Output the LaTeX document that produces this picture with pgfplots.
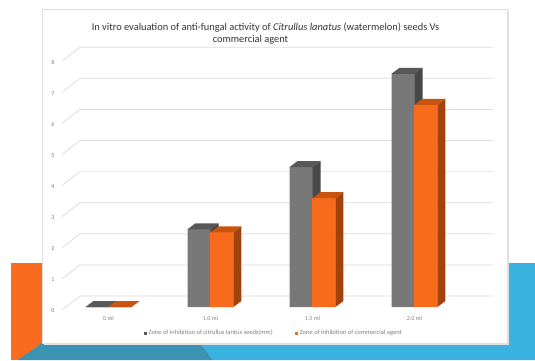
\documentclass[border=0pt]{standalone}
\usepackage{pgfplots}
\pgfplotsset{compat=1.18}
\usepackage{fontspec}
\setmainfont{Carlito}
\definecolor{grayF}{HTML}{787878}
\definecolor{grayT}{HTML}{585858}
\definecolor{grayS}{HTML}{484848}
\definecolor{orgF}{HTML}{F96B1C}
\definecolor{orgT}{HTML}{C8540F}
\definecolor{orgS}{HTML}{A2430E}
\definecolor{bgOrange}{HTML}{F96B1E}
\definecolor{bgTeal}{HTML}{3A93B3}
\definecolor{bgBlue}{HTML}{3AB2DF}
\definecolor{gridc}{HTML}{DCDCDC}
\definecolor{txt}{HTML}{333333}
\definecolor{ticktxt}{HTML}{808080}
% 3D bar: origin at front-top centre of the bar; #1 front, #2 top, #3 side colour
\newcommand\barthreed[3]{%
  \pgfmathsetmacro\hh{\barh*31.1}%
  \pgfsetfillcolor{#1}%
  \pgfpathrectanglecorners{\pgfqpoint{-11.5pt}{0pt}}{\pgfpoint{11.5pt}{-\hh pt}}%
  \pgfusepath{fill}%
  \pgfsetfillcolor{#2}%
  \pgfpathmoveto{\pgfqpoint{-11.5pt}{0pt}}%
  \pgfpathlineto{\pgfqpoint{-3.5pt}{6pt}}%
  \pgfpathlineto{\pgfqpoint{19.5pt}{6pt}}%
  \pgfpathlineto{\pgfqpoint{11.5pt}{0pt}}%
  \pgfpathclose
  \pgfusepath{fill}%
  \pgfsetfillcolor{#3}%
  \pgfpathmoveto{\pgfqpoint{11.5pt}{0pt}}%
  \pgfpathlineto{\pgfqpoint{19.5pt}{6pt}}%
  \pgfpathlineto{\pgfpoint{19.5pt}{6pt-\hh pt}}%
  \pgfpathlineto{\pgfpoint{11.5pt}{-\hh pt}}%
  \pgfpathclose
  \pgfusepath{fill}%
}
\pgfdeclareplotmark{gray3d}{\barthreed{grayF}{grayT}{grayS}}
\pgfdeclareplotmark{orange3d}{\barthreed{orgF}{orgT}{orgS}}
\begin{document}
\begin{tikzpicture}
\path[use as bounding box] (0pt,0pt) rectangle (535pt,360pt);
\fill[white] (0pt,0pt) rectangle (535pt,360pt);
% slide decoration
\fill[bgOrange] (11pt,0pt) rectangle (42pt,97pt);
\fill[bgBlue] (507pt,0pt) rectangle (535pt,97pt);
\fill[bgBlue] (200pt,17pt) -- (535pt,17pt) -- (535pt,0pt) -- (213pt,0pt) -- cycle;
\fill[bgTeal] (42pt,17pt) -- (200pt,17pt) -- (213pt,0pt) -- (18pt,0pt) -- cycle;
% chart box
\fill[black!12] (43.5pt,15.5pt) rectangle (508.5pt,349.5pt);
\filldraw[fill=white, draw=black!13, line width=0.6pt] (42pt,17pt) rectangle (507pt,351pt);
% title
\node[text=txt, font=\fontsize{10.4}{12}\selectfont, inner sep=0pt] at (265.5pt,332pt)
  {In vitro evaluation of anti-fungal activity of \textit{Citrullus lanatus} (watermelon) seeds Vs};
\node[text=txt, font=\fontsize{10.4}{12}\selectfont, inner sep=0pt] at (250.5pt,320pt)
  {commercial agent};
\begin{axis}[
  at={(57.5pt,53pt)}, anchor=south west,
  scale only axis, width=408pt, height=248.8pt,
  xmin=-0.5, xmax=3.5, ymin=0, ymax=8,
  clip=false,
  axis line style={draw=none},
  major tick length=0pt,
  /pgf/number format/assume math mode=true,
  ytick={0,1,...,8},
  yticklabel style={anchor=center, xshift=-4.5pt, yshift=-4pt,
    font=\fontsize{6}{7}\selectfont, text=ticktxt},
  xtick={0,1,2,3},
  xticklabels={0 ml, 1.0 ml, 1.5 ml, 2.0 ml},
  xticklabel style={anchor=center, yshift=-11pt,
    font=\fontsize{6}{7}\selectfont, text=ticktxt},
  legend columns=2,
  legend style={at={(0.53,-0.1045)}, anchor=center, draw=none, fill=none,
    font=\fontsize{6.5}{7}\selectfont, text=ticktxt,
    /tikz/every odd column/.append style={column sep=0pt},
    /tikz/every even column/.append style={column sep=20pt}},
]
% back-wall grid
\pgfplotsinvokeforeach{0,...,8}{
  \draw[gridc, line width=0.7pt] ([xshift=4.5pt,yshift=-3pt]axis cs:-0.5,#1) -- ++(18pt,14pt)
    -- ([xshift=27.5pt,yshift=11pt]axis cs:3.5,#1);
}
% gray series: zone of inhibition of Citrullus lanatus seeds
\addplot[ybar, bar width=0.225, bar shift=0pt, fill=grayF, draw=none, forget plot]
  coordinates {(-0.1125,0) (0.8875,2.5) (1.8875,4.5) (2.8875,7.5)};
\addplot[only marks, mark=gray3d, visualization depends on={rawy \as \barh}, forget plot]
  coordinates {(-0.1125,0) (0.8875,2.5) (1.8875,4.5) (2.8875,7.5)};
% orange series: commercial agent
\addplot[ybar, bar width=0.225, bar shift=0pt, fill=orgF, draw=none, forget plot]
  coordinates {(0.1125,0) (1.1125,2.4) (2.1125,3.5) (3.1125,6.5)};
\addplot[only marks, mark=orange3d, visualization depends on={rawy \as \barh}, forget plot]
  coordinates {(0.1125,0) (1.1125,2.4) (2.1125,3.5) (3.1125,6.5)};
\addlegendimage{legend image code/.code={\fill[grayT] (0pt,-1.3pt) rectangle (2.6pt,1.3pt);}}
\addlegendentry{Zone of inhibition of citrullus lantus seeds(mm)}
\addlegendimage{legend image code/.code={\fill[orgF] (0pt,-1.3pt) rectangle (2.6pt,1.3pt);}}
\addlegendentry{Zone of inhibition of commercial agent}
\end{axis}
\end{tikzpicture}
\end{document}
